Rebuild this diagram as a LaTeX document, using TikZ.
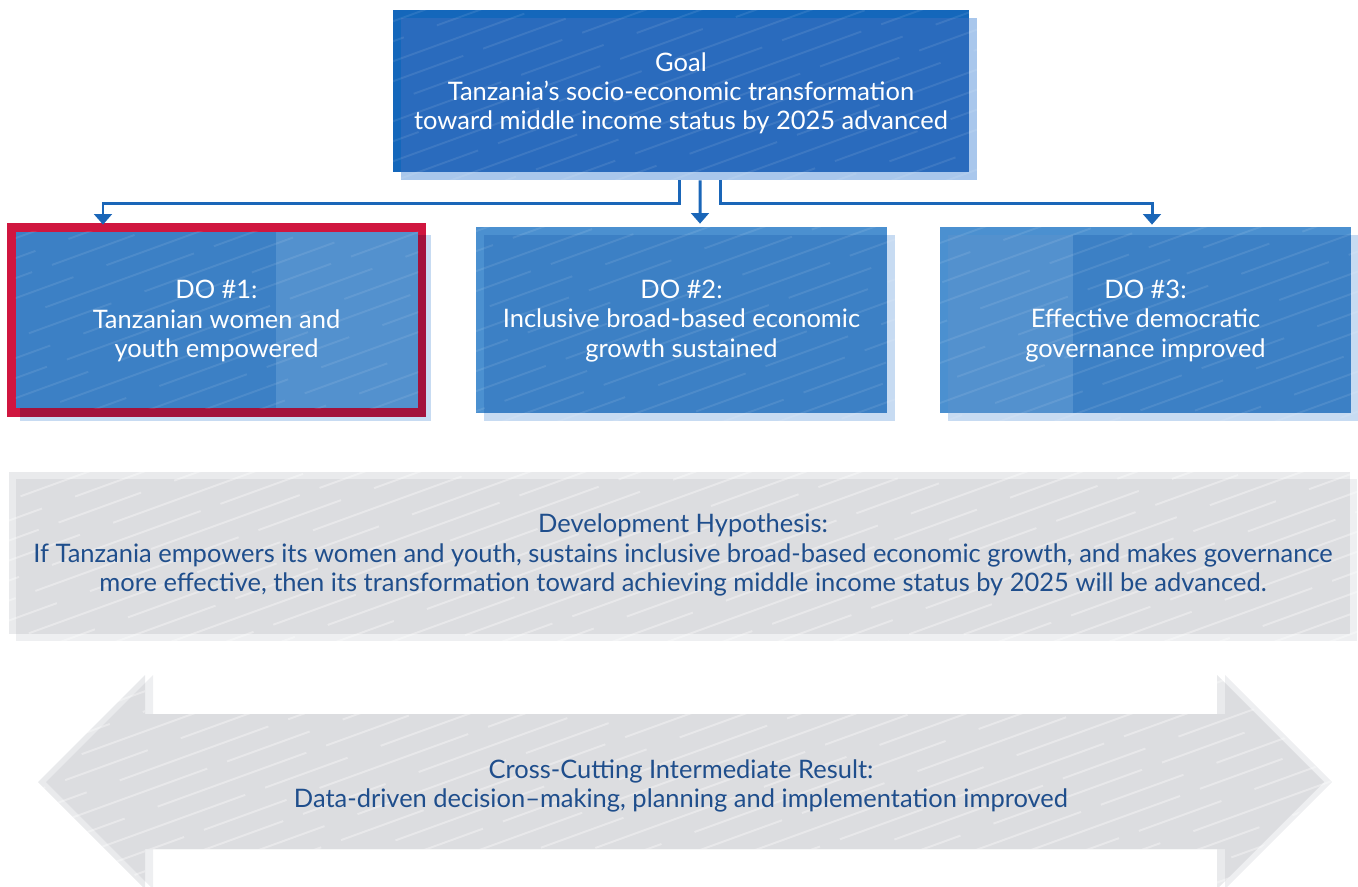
\documentclass[tikz,border=0pt]{standalone}
\usepackage{fontspec}
\setmainfont{Lato}
\usetikzlibrary{positioning,calc,backgrounds,arrows.meta}

\definecolor{goalA}{HTML}{1467BB}
\definecolor{goalB}{HTML}{A9C7EC}
\definecolor{goalC}{HTML}{2A6BBD}
\definecolor{doA}{HTML}{4B90D0}
\definecolor{doB}{HTML}{C7DBF2}
\definecolor{doC}{HTML}{3C80C5}
\definecolor{doD}{HTML}{5391CE}
\definecolor{redA}{HTML}{D0163F}
\definecolor{redC}{HTML}{A3123C}
\definecolor{greyA}{HTML}{E9EAEC}
\definecolor{greyB}{HTML}{EEEFF1}
\definecolor{greyC}{HTML}{DCDDE0}
\definecolor{linkblue}{HTML}{1A66B8}
\definecolor{textblue}{HTML}{1F4E8C}

% faint diagonal stripes, used inside a clip
\newcommand{\hatchfill}[1]{%
  \foreach \k [evaluate=\k as \ph using {mod(\k*37,97)}] in {0,...,72}
    \draw[white, opacity=#1, line width=1.1pt,
          dash pattern=on 90pt off 12pt on 50pt off 20pt, dash phase=\ph pt]
      (-100,\k*20) -- ++(1600,-580);}

\begin{document}
\begin{tikzpicture}[x=0.02cm, y=-0.02cm,
  box/.style={inner sep=0pt, align=center, font=\fontsize{14.5}{16.6}\selectfont},
  link/.style={draw=linkblue, line width=1.7pt, -{Triangle[width=10pt,length=6pt]}}]

\useasboundingbox (0,0) rectangle (1358,886);

% goal and the three objectives
\node[box, text=white, minimum width=11.52cm, minimum height=3.24cm] (goal) at (681,93)
  {Goal\\Tanzania’s socio-economic transformation\\toward middle income status by 2025 advanced};
\node[box, text=white, minimum width=8.38cm, minimum height=3.88cm] (do1) at (216.5,321)
  {DO \#1:\\Tanzanian women and\\youth empowered};
\node[box, text=white, minimum width=8.22cm, minimum height=3.72cm] (do2) at (681.5,321)
  {DO \#2:\\Inclusive broad-based economic\\growth sustained};
\node[box, text=white, minimum width=8.22cm, minimum height=3.72cm] (do3) at (1145.5,321)
  {DO \#3:\\Effective democratic\\governance improved};

% hypothesis and cross-cutting result
\node[box, text=textblue, minimum width=26.82cm, minimum height=3.24cm] (hyp) at (683,555)
  {Development Hypothesis:\\If Tanzania empowers its women and youth, sustains inclusive broad-based economic growth, and makes governance\\more effective, then its transformation toward achieving middle income status by 2025 will be advanced.};
\node[box, text=textblue] (cross) at (681,786)
  {Cross-Cutting Intermediate Result:\\Data-driven decision–making, planning and implementation improved};

% connectors
\draw[link] ($(goal.south)+(-2,6)$) -- ++(0,23) -| ($(do1.north)+(-113.5,1)$);
\draw[link] ($(goal.south)+(19,6)$) -- ($(do2.north)+(18.5,-4)$);
\draw[link] ($(goal.south)+(39,6)$) -- ++(0,23) -| ($(do3.north)+(6.5,-3)$);

\begin{pgfonlayer}{background}
% goal box
\fill[goalA] ($(goal.north west)+(0,-2)$) rectangle ($(goal.south east)+(0,-2)$);
\fill[goalB] ($(goal.north west)+(8,6)$) rectangle ($(goal.south east)+(8,6)$);
\fill[goalC] ($(goal.north west)+(8,6)$) rectangle ($(goal.south east)+(0,-2)$);
\begin{scope}
  \clip ($(goal.north west)+(0,-2)$) rectangle ($(goal.south east)+(8,6)$);
  \hatchfill{0.09}
\end{scope}

% DO 1, red frame
\fill[doB] ($(do1.north west)+(13,11)$) rectangle ($(do1.south east)+(5,3)$);
\fill[redA] ($(do1.north west)+(0,-1)$) rectangle ($(do1.south east)+(0,-1)$);
\fill[redC] ($(do1.north west)+(13,11)$) rectangle ($(do1.south east)+(0,-1)$);
\fill[doC] ($(do1.north west)+(9,8)$) rectangle ($(do1.south west)+(269,-10)$);
\fill[doD] ($(do1.north west)+(269,8)$) rectangle ($(do1.south east)+(-8,-10)$);
\begin{scope}
  \clip ($(do1.north west)+(9,8)$) rectangle ($(do1.south east)+(-8,-10)$);
  \hatchfill{0.09}
\end{scope}

% DO 2
\fill[doA] ($(do2.north west)+(0,-1)$) rectangle ($(do2.south east)+(0,-1)$);
\fill[doB] ($(do2.north west)+(8,7)$) rectangle ($(do2.south east)+(8,7)$);
\fill[doC] ($(do2.north west)+(8,7)$) rectangle ($(do2.south east)+(0,-1)$);
\begin{scope}
  \clip ($(do2.north west)+(0,-1)$) rectangle ($(do2.south east)+(8,7)$);
  \hatchfill{0.09}
\end{scope}

% DO 3
\fill[doA] ($(do3.north west)+(0,-1)$) rectangle ($(do3.south east)+(0,-1)$);
\fill[doB] ($(do3.north west)+(8,7)$) rectangle ($(do3.south east)+(8,7)$);
\fill[doC] ($(do3.north west)+(8,7)$) rectangle ($(do3.south east)+(0,-1)$);
\fill[doD] ($(do3.north west)+(8,7)$) rectangle ($(do3.south west)+(133,-1)$);
\begin{scope}
  \clip ($(do3.north west)+(0,-1)$) rectangle ($(do3.south east)+(8,7)$);
  \hatchfill{0.09}
\end{scope}

% hypothesis box
\fill[greyA] (9,472) rectangle (1350,634);
\fill[greyB] (16,479) rectangle (1357,641);
\fill[greyC] (16,479) rectangle (1350,634);
\begin{scope}
  \clip (9,472) rectangle (1357,641);
  \hatchfill{0.35}
\end{scope}

% double arrow behind the cross-cutting result
\def\crosspath{(38,782) -- (145,675) -- (145,714) -- (1217,714) -- (1217,675) -- (1324,782)
  -- (1217,889) -- (1217,849) -- (145,849) -- (145,889) -- cycle}
\fill[greyA] \crosspath;
\fill[greyB, shift={(8,0)}] \crosspath;
\begin{scope}
  \clip \crosspath;
  \fill[greyC, shift={(8,0)}] \crosspath;
\end{scope}
\begin{scope}
  \clip (38,675) -- (145,675) -- (145,714) -- (1217,714) -- (1217,675) -- (1332,782)
    -- (1217,889) -- (1217,849) -- (145,849) -- (145,889) -- (38,782) -- cycle;
  \hatchfill{0.35}
\end{scope}
\end{pgfonlayer}

\end{tikzpicture}
\end{document}
